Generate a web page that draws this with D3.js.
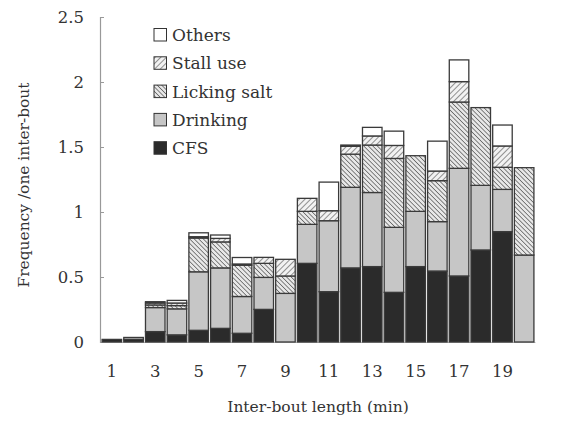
<!DOCTYPE html>
<html>
<head>
<meta charset="utf-8">
<script src="https://cdn.jsdelivr.net/npm/d3@7"></script>
<style>
  html, body { margin: 0; padding: 0; background: #fff; }
  svg { display: block; }
  text { font-family: "DejaVu Serif", "Liberation Serif", serif; fill: #333; }
</style>
</head>
<body>
<svg id="chart" width="569" height="421"></svg>
<script>
const categories = [1,2,3,4,5,6,7,8,9,10,11,12,13,14,15,16,17,18,19,20];
const tickLabels = [1,3,5,7,9,11,13,15,17,19];
const yTicks = [0, 0.5, 1, 1.5, 2, 2.5];
const seriesNames = ["CFS", "Drinking", "Licking salt", "Stall use", "Others"];
const cfs      = [0.02, 0.02, 0.08, 0.055, 0.09, 0.105, 0.067, 0.251, 0, 0.605, 0.387, 0.57, 0.58, 0.382, 0.58, 0.546, 0.508, 0.708, 0.849, 0];
const drinking = [0, 0.015, 0.185, 0.2, 0.45, 0.465, 0.283, 0.246, 0.374, 0.3, 0.546, 0.62, 0.57, 0.5, 0.425, 0.38, 0.828, 0.497, 0.325, 0.669];
const licking  = [0, 0, 0.02, 0.025, 0.26, 0.2, 0.24, 0.108, 0.134, 0.1, 0, 0.255, 0.365, 0.53, 0.428, 0.315, 0.51, 0.598, 0.17, 0.672];
const stall    = [0, 0, 0.015, 0.02, 0.01, 0.027, 0.01, 0.046, 0.128, 0.1, 0.077, 0.06, 0.07, 0.1, 0, 0.074, 0.157, 0, 0.164, 0];
const others   = [0, 0, 0.01, 0.02, 0.03, 0.026, 0.05, 0, 0, 0, 0.22, 0.01, 0.066, 0.11, 0, 0.23, 0.167, 0, 0.161, 0];

const seriesValues = [cfs, drinking, licking, stall, others];
const table = categories.map((c, i) => {
  const row = { cat: c };
  seriesNames.forEach((n, k) => row[n] = seriesValues[k][i]);
  return row;
});

const svg = d3.select("#chart");
const defs = svg.append("defs");

// Stall use: light "/" hatch
const p1 = defs.append("pattern").attr("id", "stall").attr("patternUnits", "userSpaceOnUse")
  .attr("width", 4).attr("height", 4).attr("patternTransform", "rotate(45)");
p1.append("rect").attr("width", 4).attr("height", 4).attr("fill", "#f2f2f2");
p1.append("line").attr("x1", 0).attr("y1", 0).attr("x2", 0).attr("y2", 4)
  .attr("stroke", "#777").attr("stroke-width", 1.6);
// Licking salt: denser "\" hatch
const p2 = defs.append("pattern").attr("id", "lick").attr("patternUnits", "userSpaceOnUse")
  .attr("width", 3.2).attr("height", 3.2).attr("patternTransform", "rotate(-45)");
p2.append("rect").attr("width", 3.2).attr("height", 3.2).attr("fill", "#e8e8e8");
p2.append("line").attr("x1", 0).attr("y1", 0).attr("x2", 0).attr("y2", 3.2)
  .attr("stroke", "#555").attr("stroke-width", 1.4);

const fills = {
  "CFS": "#2b2b2b",
  "Drinking": "#c6c6c6",
  "Licking salt": "url(#lick)",
  "Stall use": "url(#stall)",
  "Others": "#ffffff"
};

const x = d3.scaleBand().domain(categories).range([101, 535]).paddingInner(0.1).paddingOuter(0.05);
const y = d3.scaleLinear().domain([0, 2.5]).range([342, 17]);

// Y axis
const yAxis = svg.append("g").attr("transform", "translate(100,0)")
  .call(d3.axisRight(y).tickValues(yTicks).tickSize(4).tickFormat(""));
yAxis.select(".domain").attr("stroke", "#999").attr("stroke-width", 1.2);
yAxis.selectAll(".tick line").attr("stroke", "#999");

svg.append("g").selectAll("text").data(yTicks).join("text")
  .attr("x", 84).attr("y", d => y(d)).attr("dy", "0.35em")
  .attr("text-anchor", "end").attr("font-size", 16.5)
  .text(d => d3.format("")(d));

// X baseline
const xAxis = svg.append("g").attr("transform", "translate(0,342)")
  .call(d3.axisBottom(x).tickValues(tickLabels).tickSize(0).tickPadding(23));
xAxis.select(".domain").attr("stroke", "#bbb").attr("stroke-width", 1);
xAxis.selectAll(".tick text").attr("font-size", 16.5).attr("fill", "#333")
  .attr("font-family", "DejaVu Serif, Liberation Serif, serif");

// Stacked bars
const stack = d3.stack().keys(seriesNames)(table);
svg.append("g").selectAll("g").data(stack).join("g")
  .attr("fill", d => fills[d.key])
  .selectAll("rect").data(d => d.filter(s => s[1] - s[0] > 0)).join("rect")
  .attr("x", d => x(d.data.cat))
  .attr("width", x.bandwidth())
  .attr("y", d => y(d[1]))
  .attr("height", d => y(d[0]) - y(d[1]))
  .attr("stroke", "#3a3a3a").attr("stroke-width", 1.3);

// Legend
const legendOrder = ["Others", "Stall use", "Licking salt", "Drinking", "CFS"];
const lg = svg.append("g").selectAll("g").data(legendOrder).join("g")
  .attr("transform", (d, i) => `translate(154, ${35 + i * 28.3})`);
lg.append("rect").attr("x", 0).attr("y", -6.5).attr("width", 12.5).attr("height", 12.5)
  .attr("fill", d => fills[d]).attr("stroke", "#333").attr("stroke-width", 1);
lg.append("text").attr("x", 18).attr("y", 0).attr("dy", "0.36em")
  .attr("font-size", 17).text(d => d);

// Axis titles
svg.append("text").attr("x", 318).attr("y", 412).attr("text-anchor", "middle")
  .attr("font-size", 15.5).text("Inter-bout length (min)");
svg.append("text").attr("transform", "translate(29,185) rotate(-90)")
  .attr("text-anchor", "middle").attr("font-size", 15)
  .attr("textLength", 205).attr("lengthAdjust", "spacingAndGlyphs")
  .text("Frequency /one inter-bout");
</script>
</body>
</html>
